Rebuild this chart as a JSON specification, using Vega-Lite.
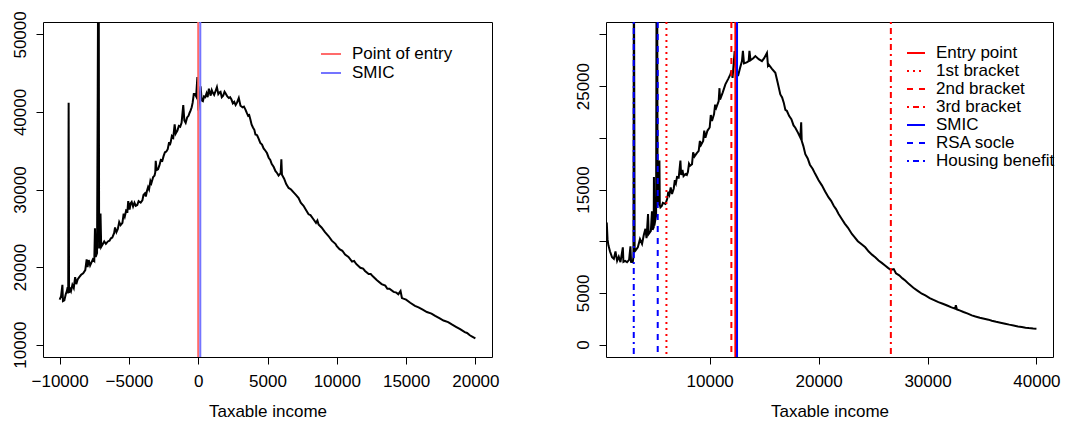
{
  "$schema": "https://vega.github.io/schema/vega-lite/v6.json",
  "background": "white",
  "padding": {"left": 10, "top": 10, "right": 0, "bottom": 0},
  "spacing": 114,
  "bounds": "flush",
  "config": {
    "view": {"stroke": "black", "strokeWidth": 1},
    "axis": {"domain": false, "grid": false, "ticks": true, "tickSize": 7, "tickColor": "black", "tickWidth": 1,
      "labelFont": "Liberation Sans", "labelFontSize": 17, "labelColor": "black",
      "titleFont": "Liberation Sans", "titleFontSize": 17, "titleFontWeight": "normal", "titleColor": "black",
      "labelFlush": false, "labelOverlap": false},
    "axisX": {"labelPadding": 9, "titlePadding": 14},
    "axisY": {"labelAngle": 270, "labelAlign": "center", "labelBaseline": "alphabetic", "labelPadding": 11},
    "legend": {"symbolType": "stroke", "symbolStrokeWidth": 2, "labelFont": "Liberation Sans", "labelFontSize": 17,
      "labelColor": "black", "rowPadding": 1, "labelOffset": 10, "padding": 0, "title": null}
  },
  "datasets": {
    "left": [
      {"income": -10000, "count": 15800}, {"income": -9900, "count": 16200}, {"income": -9800, "count": 17700},
      {"income": -9760, "count": 15600}, {"income": -9660, "count": 15700}, {"income": -9560, "count": 16500},
      {"income": -9480, "count": 16900}, {"income": -9420, "count": 17400}, {"income": -9380, "count": 16600},
      {"income": -9350, "count": 41200}, {"income": -9320, "count": 16700}, {"income": -9250, "count": 17200},
      {"income": -9180, "count": 16900}, {"income": -9080, "count": 17700}, {"income": -8980, "count": 17300},
      {"income": -8880, "count": 18700}, {"income": -8800, "count": 17800}, {"income": -8700, "count": 18400},
      {"income": -8583, "count": 18700}, {"income": -8450, "count": 19000}, {"income": -8300, "count": 19200},
      {"income": -8150, "count": 19600}, {"income": -8050, "count": 21000}, {"income": -7985, "count": 20000},
      {"income": -7900, "count": 20900}, {"income": -7800, "count": 20200}, {"income": -7700, "count": 20600},
      {"income": -7600, "count": 21000}, {"income": -7500, "count": 20800}, {"income": -7450, "count": 25000},
      {"income": -7400, "count": 21300}, {"income": -7300, "count": 21800}, {"income": -7250, "count": 42900},
      {"income": -7216, "count": 60000}, {"income": -7180, "count": 60000}, {"income": -7150, "count": 22400},
      {"income": -7100, "count": 23300}, {"income": -7050, "count": 26900}, {"income": -7000, "count": 22600},
      {"income": -6900, "count": 22900}, {"income": -6780, "count": 23300}, {"income": -6662, "count": 23000},
      {"income": -6520, "count": 23300}, {"income": -6400, "count": 23400}, {"income": -6300, "count": 23700},
      {"income": -6200, "count": 23800}, {"income": -6065, "count": 24400}, {"income": -6000, "count": 25100},
      {"income": -5900, "count": 24500}, {"income": -5800, "count": 24900}, {"income": -5700, "count": 25800},
      {"income": -5600, "count": 25400}, {"income": -5468, "count": 25700}, {"income": -5380, "count": 26900},
      {"income": -5300, "count": 26500}, {"income": -5200, "count": 27300},
      {"income": -5108, "count": 27200}, {"income": -5050, "count": 28500}, {"income": -4950, "count": 27400},
      {"income": -4880, "count": 28200}, {"income": -4800, "count": 28400}, {"income": -4700, "count": 27800},
      {"income": -4600, "count": 28300}, {"income": -4505, "count": 27900}, {"income": -4400, "count": 28000},
      {"income": -4300, "count": 28500}, {"income": -4150, "count": 28300}, {"income": -4029, "count": 28600},
      {"income": -3950, "count": 29300}, {"income": -3850, "count": 29500}, {"income": -3780, "count": 29100},
      {"income": -3700, "count": 29800}, {"income": -3620, "count": 30300}, {"income": -3547, "count": 30000},
      {"income": -3450, "count": 31100}, {"income": -3380, "count": 30800}, {"income": -3250, "count": 31600},
      {"income": -3150, "count": 31800}, {"income": -3100, "count": 32200}, {"income": -3065, "count": 33700},
      {"income": -3000, "count": 32500}, {"income": -2900, "count": 32600}, {"income": -2800, "count": 33100},
      {"income": -2700, "count": 33800}, {"income": -2590, "count": 33700}, {"income": -2500, "count": 34300},
      {"income": -2400, "count": 34800}, {"income": -2300, "count": 34900}, {"income": -2200, "count": 35200},
      {"income": -2100, "count": 36100}, {"income": -2050, "count": 35700}, {"income": -1986, "count": 36100},
      {"income": -1900, "count": 36900}, {"income": -1800, "count": 36700}, {"income": -1700, "count": 38400},
      {"income": -1626, "count": 37200}, {"income": -1500, "count": 37600}, {"income": -1400, "count": 38200},
      {"income": -1300, "count": 38100}, {"income": -1200, "count": 38600}, {"income": -1079, "count": 40900},
      {"income": -1000, "count": 38900}, {"income": -906, "count": 38600}, {"income": -800, "count": 39300},
      {"income": -700, "count": 39500}, {"income": -620, "count": 39900}, {"income": -547, "count": 40200},
      {"income": -470, "count": 40600}, {"income": -400, "count": 41200}, {"income": -320, "count": 42300},
      {"income": -237, "count": 42300}, {"income": -150, "count": 42000}, {"income": -60, "count": 44500},
      {"income": 0, "count": 40200},
      {"income": 100, "count": 42000}, {"income": 173, "count": 43300}, {"income": 250, "count": 41500},
      {"income": 338, "count": 41400}, {"income": 420, "count": 42000}, {"income": 500, "count": 41900},
      {"income": 600, "count": 42400}, {"income": 680, "count": 41900},
      {"income": 770, "count": 43000}, {"income": 900, "count": 42100}, {"income": 980, "count": 42800},
      {"income": 1050, "count": 42500}, {"income": 1150, "count": 42200},
      {"income": 1252, "count": 42700}, {"income": 1350, "count": 43200}, {"income": 1450, "count": 42300},
      {"income": 1530, "count": 42500}, {"income": 1612, "count": 42600}, {"income": 1700, "count": 41900},
      {"income": 1800, "count": 42100}, {"income": 1900, "count": 42600}, {"income": 1971, "count": 42400},
      {"income": 2100, "count": 42000}, {"income": 2209, "count": 41800}, {"income": 2300, "count": 41900},
      {"income": 2400, "count": 41600}, {"income": 2500, "count": 41100},
      {"income": 2600, "count": 41300}, {"income": 2700, "count": 40900}, {"income": 2800, "count": 41200},
      {"income": 2928, "count": 41800}, {"income": 3050, "count": 40800}, {"income": 3200, "count": 40600},
      {"income": 3300, "count": 40700}, {"income": 3410, "count": 40300}, {"income": 3500, "count": 39900},
      {"income": 3600, "count": 39500}, {"income": 3680, "count": 39600}, {"income": 3770, "count": 39000},
      {"income": 3850, "count": 38400}, {"income": 3950, "count": 38000}, {"income": 4050, "count": 37700},
      {"income": 4130, "count": 37100}, {"income": 4250, "count": 37000}, {"income": 4350, "count": 36600},
      {"income": 4480, "count": 36000}, {"income": 4604, "count": 35800}, {"income": 4720, "count": 35300},
      {"income": 4850, "count": 35000}, {"income": 4960, "count": 34700}, {"income": 5086, "count": 34100},
      {"income": 5200, "count": 33800}, {"income": 5300, "count": 33300}, {"income": 5450, "count": 32900},
      {"income": 5568, "count": 32400}, {"income": 5700, "count": 32100}, {"income": 5800, "count": 31800},
      {"income": 5950, "count": 32100}, {"income": 6000, "count": 33900}, {"income": 6043, "count": 31900},
      {"income": 6200, "count": 31400}, {"income": 6350, "count": 30700}, {"income": 6525, "count": 30200},
      {"income": 6700, "count": 30000}, {"income": 6900, "count": 29600}, {"income": 7050, "count": 29300},
      {"income": 7245, "count": 28900}, {"income": 7400, "count": 28300}, {"income": 7600, "count": 27900},
      {"income": 7800, "count": 27300}, {"income": 7964, "count": 26800}, {"income": 8100, "count": 26700},
      {"income": 8300, "count": 26200}, {"income": 8500, "count": 25700}, {"income": 8600, "count": 26000},
      {"income": 8683, "count": 25500}, {"income": 8900, "count": 25100}, {"income": 9150, "count": 24500},
      {"income": 9400, "count": 24000}, {"income": 9640, "count": 23400}, {"income": 9900, "count": 23000},
      {"income": 10000, "count": 22700}, {"income": 10200, "count": 22300}, {"income": 10400, "count": 22100},
      {"income": 10600, "count": 21600}, {"income": 10842, "count": 21300}, {"income": 11100, "count": 20700},
      {"income": 11250, "count": 20800}, {"income": 11400, "count": 20400}, {"income": 11700, "count": 19900},
      {"income": 11900, "count": 19800}, {"income": 12040, "count": 19500}, {"income": 12300, "count": 19100},
      {"income": 12450, "count": 19100}, {"income": 12600, "count": 18800}, {"income": 12900, "count": 18300},
      {"income": 13237, "count": 17800}, {"income": 13500, "count": 17600}, {"income": 13650, "count": 17200},
      {"income": 13800, "count": 17200}, {"income": 14100, "count": 16800}, {"income": 14300, "count": 16700},
      {"income": 14440, "count": 16500}, {"income": 14600, "count": 16900}, {"income": 14700, "count": 16000},
      {"income": 15000, "count": 15800}, {"income": 15300, "count": 15400}, {"income": 15640, "count": 15000},
      {"income": 15900, "count": 14800}, {"income": 16200, "count": 14500}, {"income": 16500, "count": 14200},
      {"income": 16835, "count": 14000}, {"income": 17100, "count": 13700}, {"income": 17400, "count": 13400},
      {"income": 17700, "count": 13100}, {"income": 18035, "count": 12900}, {"income": 18300, "count": 12600},
      {"income": 18600, "count": 12300}, {"income": 18900, "count": 12000}, {"income": 19235, "count": 11600},
      {"income": 19400, "count": 11500}, {"income": 19600, "count": 11200}, {"income": 19800, "count": 11000},
      {"income": 20000, "count": 10800}
    ],
    "right": [
      {"income": 480, "count": 11500}, {"income": 550, "count": 11800}, {"income": 620, "count": 10200},
      {"income": 700, "count": 9600}, {"income": 850, "count": 9000}, {"income": 1037, "count": 8450},
      {"income": 1200, "count": 8300}, {"income": 1350, "count": 9000}, {"income": 1500, "count": 8100},
      {"income": 1650, "count": 8500}, {"income": 1807, "count": 7970}, {"income": 2025, "count": 9400},
      {"income": 2080, "count": 8000}, {"income": 2250, "count": 8100}, {"income": 2413, "count": 7970},
      {"income": 2600, "count": 8200}, {"income": 2725, "count": 9500}, {"income": 2780, "count": 8000},
      {"income": 2936, "count": 7970}, {"income": 3000, "count": 8500}, {"income": 3040, "count": 40000},
      {"income": 3110, "count": 9000}, {"income": 3180, "count": 9090}, {"income": 3400, "count": 9400},
      {"income": 3600, "count": 10200}, {"income": 3789, "count": 9740}, {"income": 3950, "count": 10600},
      {"income": 4100, "count": 11200}, {"income": 4200, "count": 10300}, {"income": 4340, "count": 12630},
      {"income": 4400, "count": 10700}, {"income": 4600, "count": 11000}, {"income": 4700, "count": 12900},
      {"income": 4750, "count": 11100}, {"income": 4862, "count": 11340}, {"income": 4880, "count": 16200},
      {"income": 4920, "count": 11500}, {"income": 5000, "count": 12000}, {"income": 5080, "count": 12500},
      {"income": 5130, "count": 40000}, {"income": 5170, "count": 40000}, {"income": 5220, "count": 14000},
      {"income": 5300, "count": 13500}, {"income": 5385, "count": 17800}, {"income": 5420, "count": 13500},
      {"income": 5477, "count": 13270}, {"income": 5600, "count": 13400}, {"income": 5700, "count": 13700},
      {"income": 5936, "count": 13600}, {"income": 6100, "count": 14100}, {"income": 6200, "count": 14800},
      {"income": 6300, "count": 14500}, {"income": 6420, "count": 15200},
      {"income": 6541, "count": 14560}, {"income": 6700, "count": 15100}, {"income": 6800, "count": 15900},
      {"income": 6900, "count": 15600}, {"income": 7000, "count": 16200},
      {"income": 7156, "count": 16160}, {"income": 7312, "count": 17800}, {"income": 7380, "count": 16400},
      {"income": 7500, "count": 16900}, {"income": 7600, "count": 16300}, {"income": 7771, "count": 16490},
      {"income": 7900, "count": 16400}, {"income": 8000, "count": 16700},
      {"income": 8100, "count": 17500}, {"income": 8200, "count": 17300}, {"income": 8376, "count": 17450},
      {"income": 8480, "count": 18600}, {"income": 8600, "count": 18200},
      {"income": 8800, "count": 18500}, {"income": 8991, "count": 18740}, {"income": 9100, "count": 19700},
      {"income": 9200, "count": 19300}, {"income": 9400, "count": 19700}, {"income": 9500, "count": 20700},
      {"income": 9605, "count": 20020}, {"income": 9800, "count": 20700},
      {"income": 10000, "count": 21000}, {"income": 10100, "count": 22200}, {"income": 10211, "count": 21630},
      {"income": 10400, "count": 22300}, {"income": 10500, "count": 23200},
      {"income": 10600, "count": 22900}, {"income": 10826, "count": 23560}, {"income": 10900, "count": 24800},
      {"income": 10950, "count": 23700}, {"income": 11200, "count": 24400}, {"income": 11440, "count": 25170},
      {"income": 11700, "count": 25700}, {"income": 11899, "count": 26130}, {"income": 12000, "count": 26500},
      {"income": 12100, "count": 25800}, {"income": 12294, "count": 28380}, {"income": 12400, "count": 26800},
      {"income": 12600, "count": 25970}, {"income": 12800, "count": 26800}, {"income": 12963, "count": 27420},
      {"income": 13050, "count": 28400}, {"income": 13150, "count": 27200}, {"income": 13400, "count": 27300},
      {"income": 13578, "count": 27420}, {"income": 13650, "count": 28400}, {"income": 13750, "count": 27500},
      {"income": 14000, "count": 27700}, {"income": 14193, "count": 27900}, {"income": 14500, "count": 27600},
      {"income": 14798, "count": 27420}, {"income": 15000, "count": 27700}, {"income": 15257, "count": 28200},
      {"income": 15350, "count": 27000}, {"income": 15413, "count": 27100}, {"income": 15700, "count": 26700},
      {"income": 16027, "count": 26290}, {"income": 16250, "count": 25300}, {"income": 16486, "count": 24200},
      {"income": 16650, "count": 23900}, {"income": 16800, "count": 23400}, {"income": 16950, "count": 22700},
      {"income": 17092, "count": 22590}, {"income": 17300, "count": 22100}, {"income": 17500, "count": 21800},
      {"income": 17700, "count": 21200}, {"income": 17862, "count": 20980}, {"income": 18100, "count": 20500},
      {"income": 18321, "count": 20020}, {"income": 18400, "count": 21500}, {"income": 18450, "count": 19700},
      {"income": 18600, "count": 19200}, {"income": 18780, "count": 18420}, {"income": 19000, "count": 18000},
      {"income": 19200, "count": 17400}, {"income": 19450, "count": 17000}, {"income": 19697, "count": 16490},
      {"income": 20000, "count": 15900}, {"income": 20300, "count": 15400}, {"income": 20600, "count": 14800},
      {"income": 20917, "count": 14230}, {"income": 21150, "count": 13900}, {"income": 21400, "count": 13400},
      {"income": 21600, "count": 13100}, {"income": 21835, "count": 12630}, {"income": 22100, "count": 12200},
      {"income": 22400, "count": 11700}, {"income": 22700, "count": 11300}, {"income": 23055, "count": 10700},
      {"income": 23300, "count": 10400}, {"income": 23600, "count": 10000}, {"income": 23950, "count": 9700},
      {"income": 24284, "count": 9410}, {"income": 24600, "count": 9000}, {"income": 24900, "count": 8700},
      {"income": 25200, "count": 8450}, {"income": 25505, "count": 8130}, {"income": 25800, "count": 7900},
      {"income": 26100, "count": 7650}, {"income": 26400, "count": 7400}, {"income": 26633, "count": 7230},
      {"income": 26900, "count": 7300}, {"income": 27100, "count": 6900},
      {"income": 27400, "count": 6700}, {"income": 27700, "count": 6400}, {"income": 27954, "count": 6200},
      {"income": 28300, "count": 5850}, {"income": 28700, "count": 5500}, {"income": 29100, "count": 5200},
      {"income": 29477, "count": 4920}, {"income": 29800, "count": 4750}, {"income": 30200, "count": 4500},
      {"income": 30600, "count": 4300}, {"income": 31000, "count": 4110},
      {"income": 31400, "count": 3950}, {"income": 31800, "count": 3780}, {"income": 32200, "count": 3600},
      {"income": 32540, "count": 3470}, {"income": 32600, "count": 3800},
      {"income": 32700, "count": 3400}, {"income": 33000, "count": 3280},
      {"income": 33300, "count": 3150}, {"income": 33700, "count": 3000}, {"income": 34064, "count": 2830},
      {"income": 34400, "count": 2720}, {"income": 34800, "count": 2600}, {"income": 35200, "count": 2500},
      {"income": 35596, "count": 2410}, {"income": 35900, "count": 2300}, {"income": 36300, "count": 2200},
      {"income": 36700, "count": 2120}, {"income": 37128, "count": 2025}, {"income": 37500, "count": 1930},
      {"income": 37900, "count": 1850}, {"income": 38300, "count": 1760}, {"income": 38651, "count": 1700},
      {"income": 39000, "count": 1640}, {"income": 39300, "count": 1600}, {"income": 39700, "count": 1560},
      {"income": 40000, "count": 1540}
    ],
    "leftRules": [
      {"income": 0, "line": "Point of entry"},
      {"income": 150, "line": "SMIC"}
    ],
    "rightRules": [
      {"income": 12358, "line": "Entry point"},
      {"income": 6028, "line": "1st bracket"},
      {"income": 11990, "line": "2nd bracket"},
      {"income": 26633, "line": "3rd bracket"},
      {"income": 12510, "line": "SMIC"},
      {"income": 5229, "line": "RSA socle"},
      {"income": 3028, "line": "Housing benefit"}
    ]
  },
  "hconcat": [
    {
      "width": 449,
      "height": 335,
      "layer": [
        {
          "data": {"name": "left"},
          "mark": {"type": "line", "color": "black", "strokeWidth": 2, "clip": true},
          "encoding": {
            "x": {"field": "income", "type": "quantitative",
              "scale": {"domain": [-11200, 21200], "nice": false, "zero": false},
              "axis": {"values": [-10000, -5000, 0, 5000, 10000, 15000, 20000], "title": "Taxable income", "format": "d"}},
            "y": {"field": "count", "type": "quantitative",
              "scale": {"domain": [8400, 51600], "nice": false, "zero": false},
              "axis": {"values": [10000, 20000, 30000, 40000, 50000], "title": null, "format": "d"}}
          }
        },
        {
          "data": {"name": "leftRules"},
          "mark": {"type": "rule", "strokeWidth": 2},
          "encoding": {
            "x": {"field": "income", "type": "quantitative"},
            "color": {"field": "line", "type": "nominal",
              "scale": {"domain": ["Point of entry", "SMIC"], "range": ["#ff6b6b", "#7474ff"]},
              "legend": {"orient": "none", "legendX": 277, "legendY": 21, "symbolSize": 400, "rowPadding": -1}}
          }
        }
      ]
    },
    {
      "width": 447,
      "height": 335,
      "layer": [
        {
          "data": {"name": "right"},
          "mark": {"type": "line", "color": "black", "strokeWidth": 2, "clip": true},
          "encoding": {
            "x": {"field": "income", "type": "quantitative",
              "scale": {"domain": [480, 41520], "nice": false, "zero": false},
              "axis": {"values": [10000, 20000, 30000, 40000], "title": "Taxable income", "format": "d"}},
            "y": {"field": "count", "type": "quantitative",
              "scale": {"domain": [-1200, 31200], "nice": false, "zero": false},
              "axis": {"values": [0, 5000, 10000, 15000, 20000, 25000, 30000], "title": null, "format": "d",
                "labelExpr": "indexof([0, 5000, 15000, 25000], datum.value) >= 0 ? datum.label : ''"}}
          }
        },
        {
          "data": {"name": "rightRules"},
          "mark": {"type": "rule", "strokeWidth": 2},
          "encoding": {
            "x": {"field": "income", "type": "quantitative"},
            "color": {"field": "line", "type": "nominal",
              "sort": ["Entry point", "1st bracket", "2nd bracket", "3rd bracket", "SMIC", "RSA socle", "Housing benefit"],
              "scale": {"domain": ["Entry point", "1st bracket", "2nd bracket", "3rd bracket", "SMIC", "RSA socle", "Housing benefit"],
                "range": ["#ff0000", "#ff0000", "#ff0000", "#ff0000", "#0000ff", "#0000ff", "#0000ff"]},
              "legend": {"orient": "none", "legendX": 300, "legendY": 21, "symbolSize": 324, "rowPadding": -4}},
            "strokeDash": {"field": "line", "type": "nominal",
              "sort": ["Entry point", "1st bracket", "2nd bracket", "3rd bracket", "SMIC", "RSA socle", "Housing benefit"],
              "scale": {"domain": ["Entry point", "1st bracket", "2nd bracket", "3rd bracket", "SMIC", "RSA socle", "Housing benefit"],
                "range": [[1, 0], [2, 4], [6, 6], [2, 4, 6, 4], [1, 0], [6, 6], [2, 4, 6, 4]]},
              "legend": {"orient": "none", "legendX": 300, "legendY": 21, "symbolSize": 324, "rowPadding": -4}}
          }
        }
      ]
    }
  ],
  "resolve": {
    "scale": {"x": "independent", "y": "independent", "color": "independent", "strokeDash": "independent"},
    "legend": {"color": "independent", "strokeDash": "independent"}
  }
}
